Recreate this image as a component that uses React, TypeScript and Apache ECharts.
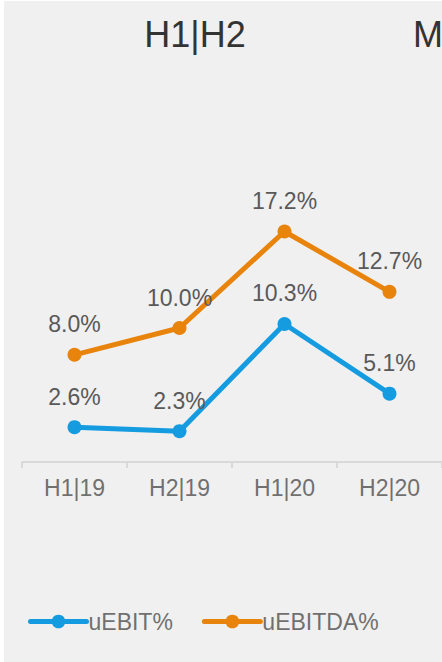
import React, { useEffect, useRef } from "react";
import * as echarts from "echarts";

const categories = ["H1|19", "H2|19", "H1|20", "H2|20"];
const uEBIT = [2.6, 2.3, 10.3, 5.1];
const uEBITDA = [8.0, 10.0, 17.2, 12.7];
const seriesNames = ["uEBIT%", "uEBITDA%"];
const titleText = "H1|H2";
const sideTitle = "M";

const BLUE = "#159ce0";
const ORANGE = "#e8830b";

export default function App() {
  const ref = useRef<HTMLDivElement>(null);
  useEffect(() => {
    document.body.style.margin = "0";
    const chart = echarts.init(ref.current!, undefined, { renderer: "svg" });
    const labelFmt = (p: any) => Number(p.value).toFixed(1) + "%";
    const mkSeries = (name: string, data: number[], color: string) => ({
      name,
      type: "line",
      data,
      symbol: "circle",
      symbolSize: 14,
      lineStyle: { color, width: 5 },
      itemStyle: { color },
      label: {
        show: true,
        position: "top",
        distance: 12,
        formatter: labelFmt,
        fontFamily: "Liberation Sans, Arial, sans-serif",
        fontSize: 23,
        color: "#595959",
      },
    });
    chart.setOption({
      animation: false,
      backgroundColor: "#ffffff",
      textStyle: { fontFamily: "Liberation Sans, Arial, sans-serif" },
      graphic: [
        {
          type: "rect",
          z: -10,
          shape: { x: 4, y: 1, width: 438, height: 661 },
          style: { fill: "#f0f0f0" },
          silent: true,
        },
        {
          type: "text",
          x: 195,
          y: 34,
          style: {
            text: titleText,
            fontFamily: "Liberation Sans, Arial, sans-serif",
            fontSize: 36,
            fill: "#333333",
            textAlign: "center",
            textVerticalAlign: "middle",
          },
        },
        {
          type: "text",
          x: 413,
          y: 34,
          style: {
            text: sideTitle,
            fontFamily: "Liberation Sans, Arial, sans-serif",
            fontSize: 36,
            fill: "#333333",
            textAlign: "left",
            textVerticalAlign: "middle",
          },
        },
      ],
      legend: {
        left: 23,
        top: 605,
        itemWidth: 56,
        itemHeight: 17,
        itemGap: 29,
        lineStyle: { width: 5, cap: "round" },
        textStyle: {
          fontFamily: "Liberation Sans, Arial, sans-serif",
          fontSize: 23,
          color: "#707070",
          padding: [0, 0, 0, -3],
        },
        data: seriesNames,
      },
      grid: { left: 22, right: 0, top: 194, bottom: 200 },
      xAxis: {
        type: "category",
        data: categories,
        boundaryGap: true,
        axisLine: { show: true, lineStyle: { color: "#d9d9d9", width: 2 } },
        axisTick: { show: true, length: 6, lineStyle: { color: "#d9d9d9", width: 2 } },
        axisLabel: {
          margin: 14,
          fontFamily: "Liberation Sans, Arial, sans-serif",
          fontSize: 23,
          color: "#707070",
        },
      },
      yAxis: {
        type: "value",
        min: 0,
        max: 20,
        show: false,
        splitLine: { show: false },
      },
      series: [
        mkSeries(seriesNames[0], uEBIT, BLUE),
        mkSeries(seriesNames[1], uEBITDA, ORANGE),
      ],
    });
    return () => chart.dispose();
  }, []);
  return <div ref={ref} style={{ width: 442, height: 662 }} />;
}
